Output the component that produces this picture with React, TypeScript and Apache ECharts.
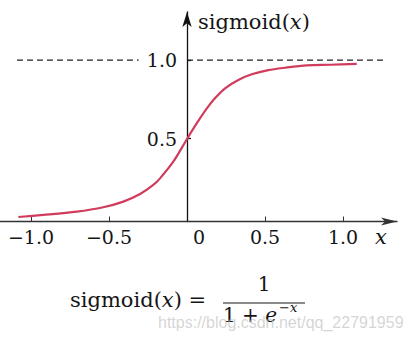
import React, { useEffect, useRef } from "react";
import * as echarts from "echarts";

// Curve samples (x, sigmoid value)
const curveX = [-1.081, -0.921, -0.707, -0.537, -0.408, -0.301, -0.216, -0.173, -0.088, -0.002, 0.062, 0.126, 0.179, 0.244, 0.329, 0.415, 0.521, 0.628, 0.767, 0.917, 1.088];
const curveY = [0.0, 0.013, 0.034, 0.062, 0.098, 0.146, 0.204, 0.246, 0.352, 0.494, 0.596, 0.69, 0.756, 0.82, 0.873, 0.909, 0.936, 0.951, 0.966, 0.97, 0.975];

// Asymptote y = 1 (dashed), drawn in two pieces around the "1.0" label
const asymptoteY = 1.0;
const asymptoteLeftX = [-1.09, -0.31];
const asymptoteRightX = [0, 1.27];

// Tick values
const xTickLabels = [-1.0, -0.5, 0, 0.5, 1.0];
const xTickMarks = [-1.0, -0.5, 0.5, 1.0];
const yTickValues = [0.5, 1.0];

const X_MIN = -1.1987;
const X_MAX = 1.346;
const GRID_LEFT = 0;
const GRID_RIGHT = 14;
const CHART_W = 411;

const SERIF = '"DejaVu Serif", serif';
const INK = "#151515";

export default function App() {
  const ref = useRef<HTMLDivElement>(null);
  useEffect(() => {
    const chart = echarts.init(ref.current!, null, { renderer: "svg" });
    const fmt = (v: number) => {
      if (Math.abs(v) < 1e-9) return "{z|0}";
      const s = Math.abs(v).toFixed(1);
      return v < 0 ? "\u2212" + s : s;
    };
    // distance from grid's left edge to x = 0, so the y axis sits at x = 0
    const zeroOffset = ((0 - X_MIN) / (X_MAX - X_MIN)) * (CHART_W - GRID_LEFT - GRID_RIGHT);
    chart.setOption({
      animation: false,
      backgroundColor: "#ffffff",
      grid: { left: GRID_LEFT, right: GRID_RIGHT, top: 12, bottom: 117.5, containLabel: false, outerBoundsMode: "none" },
      xAxis: {
        type: "value",
        min: X_MIN,
        max: X_MAX,
        axisLine: {
          onZero: false,
          symbol: ["none", "arrow"],
          symbolSize: [6, 16],
          lineStyle: { color: "#333", width: 1.3 },
        },
        axisTick: {
          show: true,
          inside: true,
          length: 5,
          customValues: xTickMarks,
          lineStyle: { color: "#333", width: 1 },
        },
        axisLabel: {
          customValues: xTickLabels,
          formatter: fmt,
          margin: 6,
          fontFamily: SERIF,
          fontSize: 19,
          color: INK,
          rich: {
            z: { fontFamily: SERIF, fontSize: 19, color: INK, padding: [0, 0, 0, 24] },
          },
        },
        splitLine: { show: false },
      },
      yAxis: {
        type: "value",
        min: -0.0287,
        max: 1.306,
        position: "left",
        offset: -zeroOffset,
        axisLine: {
          onZero: false,
          symbol: ["none", "arrow"],
          symbolSize: [7, 15],
          lineStyle: { color: "#111", width: 1.3 },
        },
        axisTick: {
          show: true,
          inside: true,
          length: 4,
          customValues: yTickValues,
          lineStyle: { color: "#111", width: 1.3 },
        },
        axisLabel: {
          customValues: yTickValues,
          formatter: (v: number) => v.toFixed(1),
          margin: 10,
          padding: [4, 0, 0, 0],
          fontFamily: SERIF,
          fontSize: 19,
          color: INK,
        },
        splitLine: { show: false },
      },
      series: [
        {
          type: "line",
          data: asymptoteLeftX.map((x) => [x, asymptoteY]),
          showSymbol: false,
          symbol: "none",
          lineStyle: { color: "#222", width: 1.2, type: [6, 4] },
          z: 2,
        },
        {
          type: "line",
          data: asymptoteRightX.map((x) => [x, asymptoteY]),
          showSymbol: false,
          symbol: "none",
          lineStyle: { color: "#222", width: 1.2, type: [6, 4] },
          z: 2,
        },
        {
          type: "line",
          data: curveX.map((x, i) => [x, curveY[i]]),
          smooth: 0.3,
          showSymbol: false,
          symbol: "none",
          lineStyle: { color: "#d13c5c", width: 2.2 },
          z: 3,
        },
      ],
      graphic: [
        {
          type: "text",
          x: 198,
          y: 22,
          style: {
            text: "{n|sigmoid(}{i|x}{n|)}",
            align: "left",
            verticalAlign: "middle",
            rich: {
              n: { fontFamily: SERIF, fontSize: 21, fill: INK },
              i: { fontFamily: SERIF, fontSize: 21, fontStyle: "italic", fill: INK },
            },
          },
        },
        {
          type: "text",
          x: 381,
          y: 237,
          style: {
            text: "x",
            align: "center",
            verticalAlign: "middle",
            fontFamily: SERIF,
            fontSize: 21,
            fontStyle: "italic",
            fill: INK,
          },
        },
        {
          type: "text",
          x: 70,
          y: 300,
          style: {
            text: "{n|sigmoid(}{i|x}{n|) =}",
            align: "left",
            verticalAlign: "middle",
            rich: {
              n: { fontFamily: SERIF, fontSize: 21, fill: INK },
              i: { fontFamily: SERIF, fontSize: 21, fontStyle: "italic", fill: INK },
            },
          },
        },
        {
          type: "text",
          x: 264,
          y: 284,
          style: {
            text: "1",
            align: "center",
            verticalAlign: "middle",
            fontFamily: SERIF,
            fontSize: 20,
            fill: INK,
          },
        },
        {
          type: "line",
          shape: { x1: 223, y1: 303, x2: 305, y2: 303 },
          style: { stroke: INK, lineWidth: 1 },
        },
        {
          type: "text",
          x: 223,
          y: 315,
          style: {
            text: "{n|1 + }{i|e}",
            align: "left",
            verticalAlign: "middle",
            rich: {
              n: { fontFamily: SERIF, fontSize: 20, fill: INK },
              i: { fontFamily: SERIF, fontSize: 20, fontStyle: "italic", fill: INK },
            },
          },
        },
        {
          type: "text",
          x: 279,
          y: 307,
          style: {
            text: "{n|\u2212}{i|x}",
            align: "left",
            verticalAlign: "middle",
            rich: {
              n: { fontFamily: SERIF, fontSize: 13, fill: INK },
              i: { fontFamily: SERIF, fontSize: 13, fontStyle: "italic", fill: INK },
            },
          },
        },
        {
          type: "text",
          x: 158,
          y: 322,
          z: 100,
          style: {
            text: "https://blog.csdn.net/qq_22791959",
            align: "left",
            verticalAlign: "middle",
            fontFamily: '"Liberation Sans", Arial, sans-serif',
            fontSize: 16,
            fill: "rgba(185,185,185,0.6)",
          },
        },
      ],
    });
    return () => chart.dispose();
  }, []);
  return (
    <div
      ref={ref}
      style={{ position: "fixed", left: 0, top: 0, width: 411, height: 339, background: "#fff" }}
    />
  );
}
